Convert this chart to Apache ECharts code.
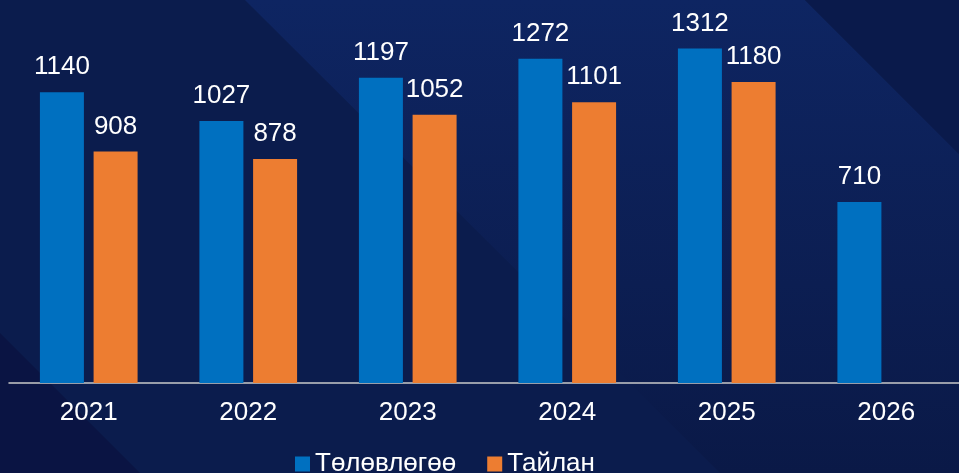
<!DOCTYPE html>
<html>
<head>
<meta charset="utf-8">
<title>Төлөвлөгөө / Тайлан</title>
<script src="https://cdn.jsdelivr.net/npm/echarts@6/dist/echarts.min.js"></script>
<style>
  html, body { margin: 0; padding: 0; background: #0b1c4d; }
  #chart { width: 959px; height: 473px; }
</style>
</head>
<body>
<div id="chart"></div>
<script>
// data
const years = ['2021', '2022', '2023', '2024', '2025', '2026']
const planValues = [1140, 1027, 1197, 1272, 1312, 710] // Төлөвлөгөө
const reportValues = [908, 878, 1052, 1101, 1180, null] // Тайлан (2026 not reported yet)
const seriesNames = ['Төлөвлөгөө', 'Тайлан']

const font = '"Liberation Sans", Arial, sans-serif'

const chart = echarts.init(document.getElementById('chart'), null, { renderer: 'canvas' })

const labelStyle = {
  show: true,
  position: 'top',
  distance: 12,
  color: '#ffffff',
  fontSize: 26,
  fontFamily: font
}

const option = {
  backgroundColor: '#0b1c4d',
  animation: false,
  // decorative diagonal stripes of the slide background
  graphic: [
    {
      type: 'polygon',
      z: -10,
      silent: true,
      shape: { points: [[245, 0], [805, 0], [959, 154], [959, 473], [720, 473]] },
      style: {
        fill: new echarts.graphic.LinearGradient(0, 0, 0, 1, [
          { offset: 0, color: '#0e2562' },
          { offset: 0.6, color: '#0c1e52' },
          { offset: 1, color: '#0a1947' }
        ])
      }
    },
    {
      type: 'polygon',
      z: -10,
      silent: true,
      shape: { points: [[805, 0], [959, 0], [959, 154]] },
      style: { fill: '#0a1a4b' }
    },
    {
      type: 'polygon',
      z: -10,
      silent: true,
      shape: { points: [[0, 333], [140, 473], [0, 473]] },
      style: { fill: '#0a1443' }
    }
  ],
  grid: {
    left: 9,
    width: 957,
    top: 26,
    bottom: 90,
    containLabel: false,
    outerBoundsMode: 'none' // the plot runs a few px past the right edge
  },
  legend: {
    data: seriesNames,
    left: 295,
    top: 451,
    padding: 0,
    icon: 'rect',
    itemWidth: 15,
    itemHeight: 15,
    itemGap: 31,
    textStyle: {
      color: '#ffffff',
      fontSize: 26,
      fontFamily: font
    }
  },
  xAxis: {
    type: 'category',
    data: years,
    axisLine: {
      show: true,
      lineStyle: { color: '#c9c9c9', width: 1.5 }
    },
    axisTick: { show: false },
    axisLabel: {
      color: '#ffffff',
      fontSize: 26,
      fontFamily: font,
      margin: 17
    }
  },
  yAxis: {
    type: 'value',
    min: 0,
    max: 1400,
    show: false,
    splitLine: { show: false }
  },
  series: [
    {
      name: seriesNames[0],
      type: 'bar',
      data: planValues,
      barWidth: 44,
      barGap: '22%',
      itemStyle: { color: '#0070c0' },
      label: labelStyle
    },
    {
      name: seriesNames[1],
      type: 'bar',
      data: reportValues,
      barWidth: 44,
      itemStyle: { color: '#ed7d31' },
      label: labelStyle
    }
  ]
}

chart.setOption(option, true)
</script>
</body>
</html>
